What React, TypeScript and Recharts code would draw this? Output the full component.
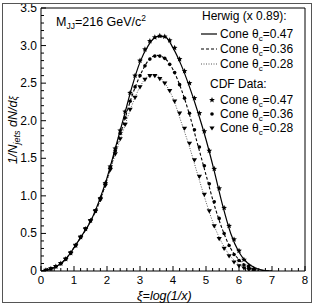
import { ComposedChart, Line, Scatter, XAxis, YAxis, ReferenceLine } from 'recharts';

// Herwig curves (x 0.89), every 0.25 in xi
const XI_MC = [0, 0.25, 0.5, 0.75, 1, 1.25, 1.5, 1.75, 2, 2.25, 2.5, 2.75, 3, 3.25, 3.5, 3.75, 4, 4.25, 4.5, 4.75, 5, 5.25, 5.5, 5.75, 6, 6.25, 6.5, 6.75, 7];
const HERWIG_47 = [0, 0.02, 0.07, 0.16, 0.31, 0.48, 0.66, 0.92, 1.24, 1.63, 2.03, 2.44, 2.78, 3.0, 3.12, 3.12, 2.97, 2.74, 2.45, 2.12, 1.75, 1.33, 0.88, 0.5, 0.25, 0.11, 0.04, 0.01, 0];
const HERWIG_36 = [0, 0.02, 0.07, 0.16, 0.31, 0.48, 0.66, 0.9, 1.22, 1.6, 1.96, 2.32, 2.6, 2.8, 2.87, 2.83, 2.68, 2.42, 2.08, 1.68, 1.28, 0.88, 0.55, 0.3, 0.15, 0.06, 0.02, 0.005, 0];
const HERWIG_28 = [0, 0.02, 0.07, 0.16, 0.31, 0.48, 0.66, 0.88, 1.2, 1.55, 1.88, 2.2, 2.45, 2.59, 2.6, 2.5, 2.3, 1.98, 1.65, 1.28, 0.92, 0.6, 0.36, 0.19, 0.09, 0.035, 0.01, 0.003, 0];

// CDF data points
const XI_DATA = [0.15, 0.3, 0.45, 0.6, 0.75, 0.9, 1.05, 1.2, 1.35, 1.5, 1.65, 1.8, 1.95, 2.1, 2.25, 2.4, 2.55, 2.7, 2.85, 3.0, 3.15, 3.3, 3.45, 3.6, 3.75, 3.9, 4.05, 4.2, 4.35, 4.5, 4.65, 4.8, 4.95, 5.1, 5.25, 5.4, 5.55, 5.7, 5.85, 6.0, 6.15, 6.3, 6.45];
const CDF_47 = [0.01, 0.03, 0.06, 0.1, 0.16, 0.24, 0.34, 0.45, 0.56, 0.67, 0.8, 0.97, 1.17, 1.39, 1.63, 1.87, 2.12, 2.37, 2.6, 2.8, 2.95, 3.06, 3.11, 3.13, 3.12, 3.07, 2.97, 2.82, 2.66, 2.5, 2.3, 2.1, 1.86, 1.6, 1.36, 1.1, 0.84, 0.6, 0.42, 0.27, 0.15, 0.07, 0.03];
const CDF_36 = [0.01, 0.03, 0.06, 0.1, 0.16, 0.24, 0.34, 0.45, 0.56, 0.67, 0.8, 0.96, 1.16, 1.38, 1.6, 1.83, 2.04, 2.26, 2.45, 2.6, 2.73, 2.82, 2.86, 2.86, 2.83, 2.75, 2.64, 2.48, 2.3, 2.1, 1.88, 1.65, 1.4, 1.16, 0.92, 0.7, 0.5, 0.34, 0.22, 0.14, 0.08, 0.04, 0.02];
const CDF_28 = [0.01, 0.03, 0.06, 0.1, 0.16, 0.24, 0.34, 0.45, 0.56, 0.67, 0.8, 0.95, 1.14, 1.35, 1.56, 1.76, 1.95, 2.15, 2.31, 2.45, 2.55, 2.6, 2.6, 2.56, 2.5, 2.4, 2.26, 2.1, 1.9, 1.7, 1.48, 1.26, 1.02, 0.8, 0.6, 0.43, 0.3, 0.2, 0.12, 0.07, 0.04, 0.02, 0.01];

const X_LABELS = ['0', '1', '2', '3', '4', '5', '6', '7', '8'];
const Y_LABELS = ['0', '0.5', '1.0', '1.5', '2.0', '2.5', '3.0', '3.5'];

const X_TICKS = Array.from({ length: 41 }, (_, i) => Math.round(i * 2) / 10);
const Y_TICKS = Array.from({ length: 36 }, (_, i) => i / 10);

const FONT = '"Liberation Sans", Arial, sans-serif';

const pts = (xs: number[], ys: number[]) => xs.map((x, i) => ({ x, y: ys[i] }));

function starPath(cx: number, cy: number, r: number) {
    const p: string[] = [];
    for (let i = 0; i < 10; i++) {
        const rr = i % 2 === 0 ? r : r * 0.45;
        const a = -Math.PI / 2 + (i * Math.PI) / 5;
        p.push(`${cx + rr * Math.cos(a)},${cy + rr * Math.sin(a)}`);
    }
    return p.join(' ');
}

const Star = (props: any) => <polygon points={starPath(props.cx, props.cy, 3)} fill="#000" />;
const Dot = (props: any) => <circle cx={props.cx} cy={props.cy} r={1.8} fill="#000" />;
const Tri = (props: any) => {
    const { cx, cy } = props;
    return <polygon points={`${cx - 2.6},${cy - 1.6} ${cx + 2.6},${cy - 1.6} ${cx},${cy + 2.6}`} fill="#000" />;
};

function XTick(props: any) {
    const { x, y, payload } = props;
    const v = payload.value;
    const major = Math.abs(v - Math.round(v)) < 1e-6;
    return (
        <g>
            <line x1={x} x2={x} y1={y} y2={y - (major ? 5 : 3)} stroke="#000" />
            {major && (
                <text x={x} y={y + 13} textAnchor="middle" fontSize={11.5} fontFamily={FONT} fill="#000">
                    {X_LABELS[Math.round(v)]}
                </text>
            )}
        </g>
    );
}

function YTick(props: any) {
    const { x, y, payload } = props;
    const v = payload.value;
    const major = Math.abs(v * 2 - Math.round(v * 2)) < 1e-6;
    return (
        <g>
            <line x1={x} x2={x + (major ? 5 : 3)} y1={y} y2={y} stroke="#000" />
            {major && (
                <text x={x - 4} y={y + 4} textAnchor="end" fontSize={12} fontFamily={FONT} fill="#000">
                    {Y_LABELS[Math.round(v * 2)]}
                </text>
            )}
        </g>
    );
}

function Overlay() {
    const t = { fontFamily: FONT, fontSize: 12, fill: '#000' } as const;
    const rows = ['0.47', '0.36', '0.28'];
    const cone = (x: number, y: number, v: string) => (
        <text x={x} y={y} {...t}>
            Cone θ<tspan fontSize={8} dy={3}>c</tspan>
            <tspan dy={-3}>={v}</tspan>
        </text>
    );
    return (
        <svg width={314} height={305} style={{ position: 'absolute', left: 0, top: 0, pointerEvents: 'none' }}>
            <rect x={2.5} y={3.5} width={309} height={299} fill="none" stroke="#555" />
            <text x={56} y={26} {...t} fontSize={12.5}>
                M<tspan fontSize={8.5} dy={3}>JJ</tspan>
                <tspan dy={-3}>=216 GeV/c</tspan>
                <tspan fontSize={8.5} dy={-5}>2</tspan>
            </text>
            <text x={202} y={20} {...t}>Herwig (x 0.89):</text>
            <line x1={201} x2={217} y1={34} y2={34} stroke="#000" strokeWidth={1.2} />
            <line x1={201} x2={217} y1={49} y2={49} stroke="#000" strokeWidth={1.2} strokeDasharray="3 2" />
            <line x1={201} x2={217} y1={64} y2={64} stroke="#555" strokeWidth={1} strokeDasharray="1 1.5" />
            {cone(220, 38, rows[0])}
            {cone(220, 53, rows[1])}
            {cone(220, 68, rows[2])}
            <text x={210} y={88} {...t}>CDF Data:</text>
            <Star cx={212} cy={100} />
            <Dot cx={212} cy={114} />
            <Tri cx={212} cy={128} />
            {cone(220, 104, rows[0])}
            {cone(220, 118, rows[1])}
            {cone(220, 132, rows[2])}
            <text x={137} y={300} {...t} fontSize={12.5} fontStyle="italic">ξ=log(1/x)</text>
            <text transform="translate(17,130) rotate(-90)" textAnchor="middle" {...t} fontSize={12.5} fontStyle="italic">
                1/N<tspan fontSize={9} dy={3}>jets</tspan>
                <tspan dy={-3}> dN/d</tspan>
                <tspan fontSize={10}>ξ</tspan>
            </text>
        </svg>
    );
}

export default function App() {
    return (
        <div style={{ position: 'fixed', left: 0, top: 0, width: 314, height: 305, background: '#fff' }}>
            <ComposedChart width={314} height={305} margin={{ top: 8, right: 9, bottom: 0, left: 0 }}>
                <XAxis
                    dataKey="x" type="number" domain={[0, 8]} ticks={X_TICKS} interval={0}
                    height={34} tickSize={0} tickMargin={0} tickLine={false}
                    axisLine={{ stroke: '#000' }} tick={<XTick />} allowDataOverflow
                />
                <YAxis
                    type="number" domain={[0, 3.5]} ticks={Y_TICKS} interval={0}
                    width={41} tickSize={0} tickMargin={0} tickLine={false}
                    axisLine={{ stroke: '#000' }} tick={<YTick />} allowDataOverflow
                />
                <ReferenceLine y={3.5} stroke="#000" />
                <ReferenceLine x={8} stroke="#000" />
                <Line data={pts(XI_MC, HERWIG_28)} dataKey="y" type="monotone" stroke="#555" strokeWidth={1} strokeDasharray="1 1.5" dot={false} isAnimationActive={false} />
                <Line data={pts(XI_MC, HERWIG_36)} dataKey="y" type="monotone" stroke="#000" strokeWidth={1.1} strokeDasharray="3 2" dot={false} isAnimationActive={false} />
                <Line data={pts(XI_MC, HERWIG_47)} dataKey="y" type="monotone" stroke="#000" strokeWidth={1.2} dot={false} isAnimationActive={false} />
                <Scatter data={pts(XI_DATA, CDF_28)} dataKey="y" shape={<Tri />} isAnimationActive={false} />
                <Scatter data={pts(XI_DATA, CDF_36)} dataKey="y" shape={<Dot />} isAnimationActive={false} />
                <Scatter data={pts(XI_DATA, CDF_47)} dataKey="y" shape={<Star />} isAnimationActive={false} />
            </ComposedChart>
            <Overlay />
        </div>
    );
}
